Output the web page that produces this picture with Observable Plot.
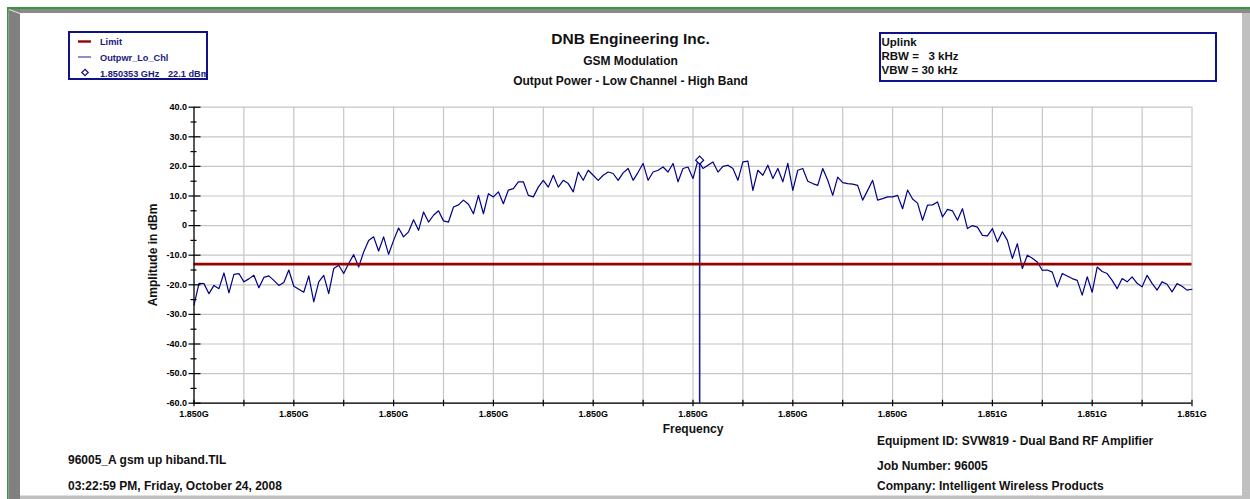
<!DOCTYPE html>
<html>
<head>
<meta charset="utf-8">
<script src="https://cdn.jsdelivr.net/npm/d3@7"></script>
<script src="https://cdn.jsdelivr.net/npm/@observablehq/plot@0.6"></script>
<style>
  html, body { margin: 0; padding: 0; background: #fff; }
  #wrap { position: relative; width: 1250px; height: 499px; overflow: hidden; background: #fff; }
  #wrap svg { position: absolute; left: 0; top: 0; }
</style>
</head>
<body>
<div id="wrap"></div>
<script>
// ---------------- data ----------------
const sweepStartGHz = 1.850049;   // first sweep point
const sweepStepGHz = 0.000003;    // 3 kHz per sweep point

// Outpwr_Lo_Chl trace, dBm, one value per sweep point (201 points)
const outpwrDbm = [
  -26.9, -19.5, -19.6, -23.0, -20.2, -21.3, -16.0, -22.7, -16.5, -16.2,
  -19.0, -18.0, -16.8, -21.0, -17.5, -17.0, -18.5, -20.2, -19.2, -15.0,
  -20.5, -21.5, -22.5, -17.0, -25.8, -19.0, -16.8, -23.0, -14.5, -13.4,
  -16.2, -12.8,  -9.8, -14.0,  -8.9,  -5.0,  -3.8,  -8.6,  -3.8,  -9.7,
   -5.0,  -0.8,  -3.8,  -2.1,   2.0,  -1.6,   4.6,   1.2,   3.5,   5.0,
    1.6,   1.2,   6.3,   7.0,   8.6,   7.2,   4.0,  10.2,   4.0,  10.8,
    9.7,  11.4,   7.4,  12.0,  12.5,  14.8,  14.8,  10.2,   9.7,  13.0,
   15.3,  13.0,  17.0,  13.0,  15.3,  14.2,  11.4,  18.1,  15.3,  18.7,
   17.0,  15.3,  17.0,  18.1,  17.6,  15.3,  17.8,  19.3,  15.3,  18.0,
   21.0,  15.3,  18.1,  18.7,  19.8,  18.1,  21.0,  14.8,  19.3,  19.8,
   15.9,  22.1,  19.3,  20.4,  21.5,  18.1,  20.0,  20.4,  19.3,  15.3,
   21.5,  21.8,  11.9,  18.7,  17.0,  20.4,  15.9,  19.3,  14.8,  21.0,
   11.9,  18.7,  19.3,  15.0,  14.2,  13.6,  19.3,  15.3,  10.2,  16.4,
   14.5,  14.2,  14.0,  13.6,   8.6,  11.9,  15.3,   8.6,   9.1,   9.7,
    9.7,  10.2,   5.7,  12.0,   9.0,   7.6,   1.8,   6.9,   7.0,   8.0,
    2.9,   5.5,   5.0,   1.8,   5.7,  -1.0,   0.0,  -0.5,  -3.3,  -3.5,
   -1.0,  -5.5,  -2.1,  -5.0, -11.1,  -6.1, -14.5, -10.0, -11.0, -12.3,
  -15.1, -15.0, -15.7, -20.7, -16.2, -17.0, -17.9, -18.5, -23.5, -17.3,
  -22.5, -14.0, -15.5, -16.2, -18.5, -21.3, -17.9, -19.0, -17.3, -19.5,
  -20.7, -16.8, -19.5, -21.8, -19.0, -19.8, -22.4, -19.6, -20.5, -21.8,
  -21.5
];

const limitDbm = -13;
const markerFreqGHz = 1.850353;
const markerDbm = 22.1;

const xMajorTicks = [1.850049, 1.850109, 1.850169, 1.850229, 1.850289, 1.850349,
                     1.850409, 1.850469, 1.850529, 1.850589, 1.850649];
const xMinorTicks = [1.850079, 1.850139, 1.850199, 1.850259, 1.850319,
                     1.850379, 1.850439, 1.850499, 1.850559, 1.850619];
const yMajorTicks = [-60, -50, -40, -30, -20, -10, 0, 10, 20, 30, 40];
const yMinorTicks = [-55, -45, -35, -25, -15, -5, 5, 15, 25, 35];

const titleLines = ["DNB Engineering Inc.", "GSM Modulation", "Output Power - Low Channel - High Band"];
const legendNames = ["Limit", "Outpwr_Lo_Chl"];
const markerLabel = ["1.850353 GHz", "22.1 dBm"];
const infoLines = ["Uplink", "RBW =   3 kHz", "VBW = 30 kHz"];
const footerLeft = ["96005_A gsm up hiband.TIL", "03:22:59 PM, Friday, October 24, 2008"];
const footerRight = ["Equipment ID: SVW819 - Dual Band RF Amplifier", "Job Number: 96005", "Company: Intelligent Wireless Products"];
const xLabel = "Frequency";
const yLabel = "Amplitude in dBm";

// ---------------- build ----------------
const trace = outpwrDbm.map((v, i) => ({freq: sweepStartGHz + i * sweepStepGHz, dbm: v}));
const sweepStopGHz = sweepStartGHz + (outpwrDbm.length - 1) * sweepStepGHz;

const FONT = '"Liberation Sans", Arial, Helvetica, sans-serif';
const W = 1250, H = 499;
const mL = 193.5, mR = 58.5, mT = 106.7, mB = 96.3;
const frameW = W - mL - mR, frameH = H - mT - mB;
const NAVY = "#000088";
const RED = "#990000";
const GRID = "#c6c6c6";

const allXTicks = xMajorTicks.concat(xMinorTicks);

const chart = Plot.plot({
  width: W, height: H,
  marginLeft: mL, marginRight: mR, marginTop: mT, marginBottom: mB,
  style: {fontFamily: FONT, fontWeight: "bold", fontSize: "9px", background: "transparent", color: "#000"},
  x: {type: "linear", domain: [sweepStartGHz, sweepStopGHz]},
  y: {type: "linear", domain: [-60, 40]},
  marks: [
    // grid
    Plot.ruleX(allXTicks, {x: d => d, stroke: GRID, strokeWidth: 1.2}),
    Plot.ruleY(yMajorTicks, {y: d => d, stroke: GRID, strokeWidth: 1.2}),
    // trace
    Plot.line(trace, {x: "freq", y: "dbm", stroke: NAVY, strokeWidth: 1.2}),
    // marker
    Plot.ruleX([{freq: markerFreqGHz, dbm: markerDbm}], {x: "freq", y1: -60, y2: "dbm", stroke: "#1a1a99", strokeWidth: 1.6}),
    // limit
    Plot.ruleY([limitDbm], {y: d => d, stroke: RED, strokeWidth: 2.6}),
    Plot.dot([{freq: markerFreqGHz, dbm: markerDbm}], {x: "freq", y: "dbm", symbol: "diamond2", r: 3.6, fill: "white", stroke: NAVY, strokeWidth: 1.2}),
    // axis lines
    Plot.ruleX([sweepStartGHz], {x: d => d, stroke: "#000", strokeWidth: 1.2}),
    Plot.ruleY([-60], {y: d => d, stroke: "#000", strokeWidth: 1.2}),
    // crossing tick marks
    Plot.ruleY(yMajorTicks, {y: d => d, stroke: "#000", strokeWidth: 1.2, insetLeft: -5, insetRight: frameW - 7}),
    Plot.ruleY(yMinorTicks, {y: d => d, stroke: "#000", strokeWidth: 1.2, insetLeft: -3, insetRight: frameW - 3}),
    Plot.ruleX(allXTicks, {x: d => d, stroke: "#000", strokeWidth: 1.2, insetTop: frameH - 3, insetBottom: -3.5}),
    // tick labels
    Plot.axisY(yMajorTicks, {tickSize: 0, tickPadding: 7, label: null,
      tickFormat: d => d === 0 ? "0" : d.toFixed(1), fontSize: 9, fontWeight: "bold"}),
    Plot.axisX(xMajorTicks, {tickSize: 0, tickPadding: 7, label: null,
      tickFormat: d => d3.format(".3f")(d) + "G", fontSize: 9, fontWeight: "bold"})
  ]
});

const wrap = document.getElementById("wrap");
wrap.appendChild(chart);

// ---------------- decorations (frame, boxes, texts) ----------------
const svg = d3.select(wrap).append("svg")
  .attr("width", W).attr("height", H)
  .style("pointer-events", "none")
  .attr("font-family", FONT).attr("font-weight", "bold");

// window frame
svg.append("rect").attr("x", 7).attr("y", 7).attr("width", W - 7).attr("height", 2).attr("fill", "#34983c");
svg.append("rect").attr("x", 7).attr("y", 7).attr("width", 1.5).attr("height", H - 7).attr("fill", "#34983c");
svg.append("rect").attr("x", 8.5).attr("y", 9).attr("width", W - 8.5).attr("height", 4).attr("fill", "#8a8a8a");
svg.append("rect").attr("x", 8.5).attr("y", 9).attr("width", 11.5).attr("height", H - 9).attr("fill", "#808080");
svg.append("rect").attr("x", 1242).attr("y", 13).attr("width", 8).attr("height", H - 13).attr("fill", "#c0c0c0");
svg.append("rect").attr("x", 20).attr("y", 495.5).attr("width", 1222).attr("height", 3.5).attr("fill", "#c0c0c0");
svg.append("path").attr("d", "M9,9 L20,13 L20,14 L9,10 Z").attr("fill", "#e8e8e8");

// legend box
const defs = svg.append("defs");
defs.append("clipPath").attr("id", "legclip").append("rect")
  .attr("x", 70).attr("y", 33).attr("width", 136).attr("height", 45);
const leg = svg.append("g");
leg.append("rect").attr("x", 69).attr("y", 32).attr("width", 138).attr("height", 47)
  .attr("fill", "white").attr("stroke", "#101088").attr("stroke-width", 2);
const legText = leg.append("g").attr("clip-path", "url(#legclip)").attr("fill", "#1a1a80").attr("font-size", 9.2);
leg.append("line").attr("x1", 78).attr("x2", 91).attr("y1", 41.5).attr("y2", 41.5).attr("stroke", RED).attr("stroke-width", 2.4);
leg.append("line").attr("x1", 78).attr("x2", 91).attr("y1", 57).attr("y2", 57).attr("stroke", "#6a6ab4").attr("stroke-width", 1.5);
leg.append("path").attr("d", d3.symbol(d3.symbolDiamond2, 26)()).attr("transform", "translate(85,72.5)")
  .attr("fill", "white").attr("stroke", "#1a1a80").attr("stroke-width", 1.3);
legText.append("text").attr("x", 100).attr("y", 45).text(legendNames[0]);
legText.append("text").attr("x", 100).attr("y", 61).text(legendNames[1]);
legText.append("text").attr("x", 100).attr("y", 76.5).text(markerLabel[0]);
legText.append("text").attr("x", 168).attr("y", 76.5).text(markerLabel[1]);

// title
svg.append("text").attr("x", 630.5).attr("y", 44).attr("text-anchor", "middle").attr("font-size", 15.5).attr("fill", "#111").text(titleLines[0]);
svg.append("text").attr("x", 630.5).attr("y", 65).attr("text-anchor", "middle").attr("font-size", 12).attr("fill", "#111").text(titleLines[1]);
svg.append("text").attr("x", 630.5).attr("y", 85).attr("text-anchor", "middle").attr("font-size", 12).attr("fill", "#111").text(titleLines[2]);

// info box
svg.append("rect").attr("x", 880).attr("y", 33).attr("width", 336).attr("height", 48)
  .attr("fill", "white").attr("stroke", "#101088").attr("stroke-width", 2);
infoLines.forEach((s, i) => {
  svg.append("text").attr("x", 881.5).attr("y", 46 + i * 14).attr("font-size", 11.5).attr("fill", "#111")
    .attr("xml:space", "preserve").style("white-space", "pre").text(s);
});

// axis titles
svg.append("text").attr("transform", "translate(157,255) rotate(-90)").attr("text-anchor", "middle")
  .attr("font-size", 12).attr("fill", "#111").text(yLabel);
svg.append("text").attr("x", 693).attr("y", 433).attr("text-anchor", "middle")
  .attr("font-size", 12).attr("fill", "#111").text(xLabel);

// footers
svg.append("text").attr("x", 68).attr("y", 463.5).attr("font-size", 12).attr("fill", "#111").text(footerLeft[0]);
svg.append("text").attr("x", 68).attr("y", 490).attr("font-size", 12).attr("fill", "#111").text(footerLeft[1]);
footerRight.forEach((s, i) => {
  svg.append("text").attr("x", 877).attr("y", [445, 470, 490][i]).attr("font-size", 12).attr("fill", "#111").text(s);
});
</script>
</body>
</html>
